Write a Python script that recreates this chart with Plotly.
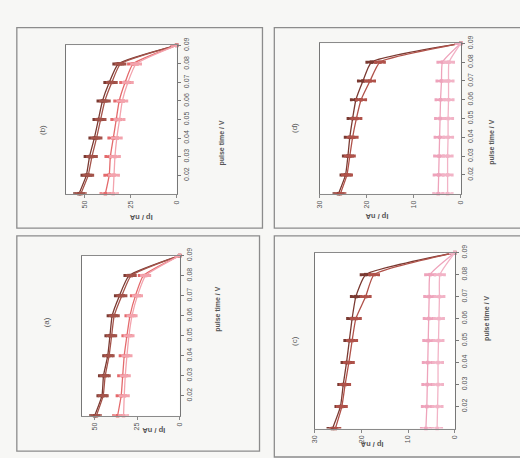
import plotly.graph_objects as go

# pulse time values (V)
pulse_time = [0.01, 0.02, 0.03, 0.04, 0.05, 0.06, 0.07, 0.08, 0.09]
time_ticks = [0.02, 0.03, 0.04, 0.05, 0.06, 0.07, 0.08, 0.09]
time_tick_text = ["0.02", "0.03", "0.04", "0.05", "0.06", "0.07", "0.08", "0.09"]

# peak current Ip (nA), four series per panel
a_s1 = [50.0, 45.7, 44.8, 42.3, 41.0, 39.7, 35.4, 29.8, 0]
a_s2 = [49.0, 45.0, 43.8, 41.5, 40.0, 38.5, 34.0, 28.5, 0]
a_s3 = [36.5, 34.4, 33.5, 32.6, 31.0, 29.2, 26.0, 21.3, 0]
a_s4 = [33.0, 32.6, 32.0, 31.0, 29.8, 28.0, 24.8, 20.0, 0]

b_s1 = [53.0, 49.0, 47.3, 44.7, 42.5, 40.3, 36.6, 31.7, 0]
b_s2 = [52.0, 48.0, 46.0, 43.5, 41.3, 39.0, 35.2, 30.5, 0]
b_s3 = [38.7, 36.6, 36.0, 34.4, 32.8, 31.2, 28.0, 23.7, 0]
b_s4 = [34.5, 34.0, 33.5, 32.5, 31.0, 29.5, 26.5, 22.0, 0]

c_s1 = [26.2, 24.5, 23.9, 23.2, 22.6, 22.0, 21.2, 19.1, 0]
c_s2 = [25.6, 24.2, 23.5, 22.7, 22.0, 21.2, 19.1, 17.3, 0]
c_s3 = [6.2, 6.0, 5.9, 5.8, 5.7, 5.6, 5.5, 5.3, 0]
c_s4 = [3.8, 3.7, 3.6, 3.6, 3.5, 3.4, 3.3, 3.2, 0]

d_s1 = [26.0, 24.5, 24.0, 23.6, 23.0, 22.3, 20.8, 19.0, 0]
d_s2 = [25.6, 24.2, 23.6, 23.0, 22.2, 21.2, 19.3, 17.2, 0]
d_s3 = [4.8, 4.7, 4.6, 4.5, 4.4, 4.3, 4.1, 3.9, 0]
d_s4 = [2.8, 2.8, 2.8, 2.7, 2.7, 2.6, 2.6, 2.5, 0]

# error half-widths (nA)
err_large = 2.5
err_small = 1.0

ip_ticks_50 = [0, 25, 50]
ip_ticks_30 = [0, 10, 20, 30]

W, H = 520, 458

colors_ab = ["#7a3a32", "#a4534a", "#e46a6c", "#f3a3ad"]
colors_cd = ["#7a3a32", "#b0524a", "#eea3bb", "#f2b3c6"]

# panel: label, series, colors, error, ip range, ip ticks, plot box in px (x0, x1, ytop, ybottom)
panels = [
    ("(b)", [b_s1, b_s2, b_s3, b_s4], colors_ab, err_large, [60, 0], ip_ticks_50, (63, 175, 38, 189),
     (33, 117), (220, 113), (125, 213)),
    ("(d)", [d_s1, d_s2, d_s3, d_s4], colors_cd, err_small, [30, 0], ip_ticks_30, (320, 463, 36, 189),
     (295, 115), (500, 112), (392, 212)),
    ("(a)", [a_s1, a_s2, a_s3, a_s4], colors_ab, err_large, [57.5, 0], ip_ticks_50, (79, 178, 252, 415),
     (36, 327), (217, 332), (138, 436)),
    ("(c)", [c_s1, c_s2, c_s3, c_s4], colors_cd, err_small, [30, 0], ip_ticks_30, (315, 457, 249, 428),
     (295, 346), (495, 341), (387, 451)),
]

fig = go.Figure()
layout = {}
annotations = []
tick_font = dict(family="Liberation Sans, Arial, sans-serif", size=7, color="#555")

for i, (label, series, cols, err, ip_range, ip_ticks, box, lab_pos, tt_pos, ip_pos) in enumerate(panels, start=1):
    xa = "x" if i == 1 else f"x{i}"
    ya = "y" if i == 1 else f"y{i}"
    for k, (vals, col) in enumerate(zip(series, cols)):
        fig.add_trace(go.Scatter(
            x=vals, y=pulse_time, xaxis=xa, yaxis=ya, mode="lines+markers",
            line=dict(color=col, width=1.3, shape="spline", smoothing=0.45),
            marker=dict(symbol="square", size=3.5, color=col),
            error_x=dict(type="constant", value=err, color=col, thickness=2.6, width=1.5),
            showlegend=False, cliponaxis=False,
        ))
    x0, x1, yt, yb = box
    layout[f"xaxis{'' if i == 1 else i}"] = dict(
        domain=[x0 / W, x1 / W], anchor=ya, range=ip_range, tickvals=ip_ticks,
        ticks="outside", ticklen=3, tickcolor="#888", tickangle=-90, tickfont=tick_font,
        showline=True, linecolor="#8a8a8a", linewidth=1.2, mirror=True,
        showgrid=False, zeroline=False, fixedrange=True,
    )
    layout[f"yaxis{'' if i == 1 else i}"] = dict(
        domain=[1 - yb / H, 1 - yt / H], anchor=xa, side="right", range=[0.01, 0.09],
        tickvals=time_ticks, ticktext=time_tick_text,
        ticks="outside", ticklen=3, tickcolor="#777", tickangle=-90, tickfont=tick_font,
        showline=True, linecolor="#777", linewidth=1.4, mirror=True,
        showgrid=False, zeroline=False, fixedrange=True,
    )
    annotations.append(dict(text=label, x=lab_pos[0] / W, y=1 - lab_pos[1] / H, xref="paper", yref="paper",
                            showarrow=False, textangle=-90,
                            font=dict(family="Liberation Sans, Arial", size=8, color="#555")))
    annotations.append(dict(text="<b>pulse time / V</b>", x=tt_pos[0] / W, y=1 - tt_pos[1] / H,
                            xref="paper", yref="paper", showarrow=False, textangle=-90,
                            font=dict(family="Liberation Sans, Arial", size=7, color="#555")))
    annotations.append(dict(text="<b>Ip / nA</b>", x=ip_pos[0] / W, y=1 - ip_pos[1] / H,
                            xref="paper", yref="paper", showarrow=False, textangle=180,
                            font=dict(family="Liberation Sans, Arial", size=7.5, color="#555")))

# outer frames around each panel
frames = [(13, 262, 20, 224), (274, 530, 20, 224), (13, 259, 232, 451), (274, 530, 232, 457)]
shapes = []
for fx0, fx1, fy0, fy1 in frames:
    shapes.append(dict(type="rect", xref="paper", yref="paper",
                       x0=fx0 / W, x1=fx1 / W, y0=1 - fy1 / H, y1=1 - fy0 / H,
                       line=dict(color="#8c8c8c", width=1.3), fillcolor="rgba(0,0,0,0)", layer="below"))

fig.update_layout(
    width=W, height=H, margin=dict(l=0, r=0, t=0, b=0),
    paper_bgcolor="#f7f7f5", plot_bgcolor="#ffffff",
    annotations=annotations, shapes=shapes, **layout,
)

fig.write_html("out.html", config={"displayModeBar": False})
